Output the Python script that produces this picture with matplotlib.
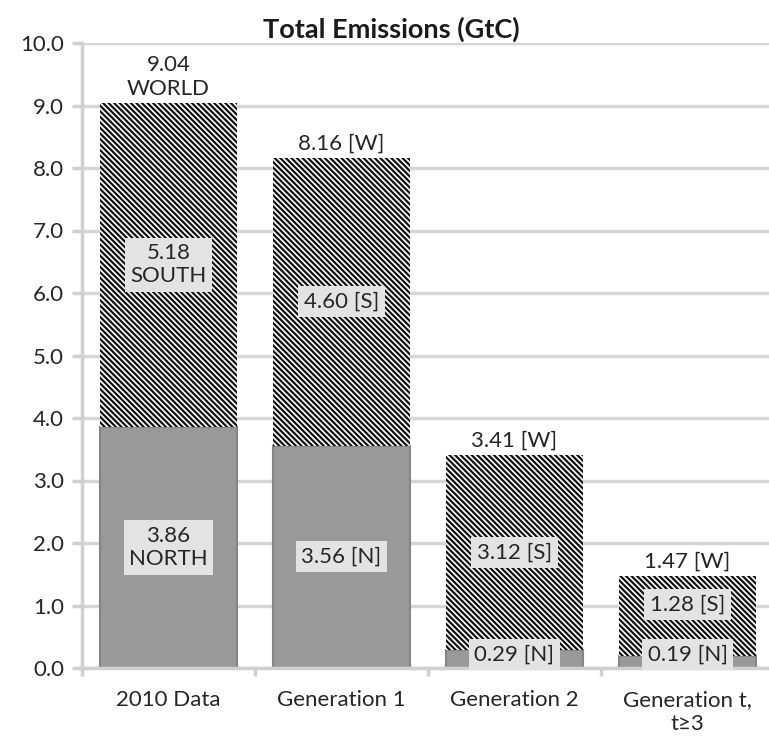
import matplotlib
matplotlib.use("Agg")
import matplotlib.pyplot as plt
import numpy as np

categories = ["2010 Data", "Generation 1", "Generation 2", "Generation t,\nt\u22653"]
north = [3.86, 3.56, 0.29, 0.19]
south = [5.18, 4.60, 3.12, 1.28]
world = [9.04, 8.16, 3.41, 1.47]
north_labels = ["3.86\nNORTH", "3.56 [N]", "0.29 [N]", "0.19 [N]"]
south_labels = ["5.18\nSOUTH", "4.60 [S]", "3.12 [S]", "1.28 [S]"]
world_labels = ["9.04\nWORLD", "8.16 [W]", "3.41 [W]", "1.47 [W]"]
yticks = np.arange(0, 10.01, 1.0)

plt.rcParams["font.family"] = ["Lato", "DejaVu Sans"]
plt.rcParams["hatch.linewidth"] = 1.6

fig = plt.figure(figsize=(7.69, 7.47), dpi=100)
ax = fig.add_axes([82 / 769, 79 / 747, 692 / 769, 625 / 747])

x = np.arange(len(categories))
w = 0.79
north = np.array(north)
south = np.array(south)

ax.bar(x, north, w, color="#999999", edgecolor="#858585", linewidth=1.5, zorder=2)
ax.bar(x, south, w, bottom=north, color="white", edgecolor="#111111",
       hatch="\\" * 6, linewidth=0, zorder=2)

box = dict(boxstyle="square,pad=0.25", facecolor="#e3e3e3", edgecolor="none")
txt = "#262626"
fs = 16
for i in range(len(x)):
    yn = max(north[i] / 2, 0.22)
    ys = max(north[i] + south[i] / 2, yn + 0.8)
    ax.text(x[i], yn, north_labels[i], ha="center", va="center", fontsize=fs,
            color=txt, bbox=box, zorder=4, linespacing=1.2)
    ax.text(x[i], ys, south_labels[i], ha="center", va="center", fontsize=fs,
            color=txt, bbox=box, zorder=4, linespacing=1.2)
    ax.annotate(world_labels[i], (x[i], world[i]), xytext=(0, 3),
                textcoords="offset points", ha="center", va="bottom",
                fontsize=fs, color=txt, linespacing=1.25, zorder=4)

ax.set_xlim(-0.5, 3.5)
ax.set_ylim(0, 10)
ax.set_yticks(yticks)
ax.set_yticklabels([f"{v:.1f}" for v in yticks], fontsize=fs, color=txt)
ax.set_xticks(x)
ax.set_xticklabels(categories, fontsize=fs, color=txt, linespacing=1.25)
ax.set_xticks(np.arange(-0.5, 3.6, 1), minor=True)
ax.tick_params(axis="x", which="major", length=0, pad=16)
ax.tick_params(axis="x", which="minor", length=6, width=2.5, color="#d0d0d0")
ax.tick_params(axis="y", length=7, width=2.5, color="#d0d0d0", pad=6)

ax.grid(axis="y", color="#d6d6d6", linewidth=2.5, zorder=0)
ax.set_axisbelow(True)
for s in ["top", "right"]:
    ax.spines[s].set_visible(False)
ax.spines["left"].set_color("#d0d0d0")
ax.spines["left"].set_linewidth(2.5)
ax.spines["bottom"].set_color("#d0d0d0")
ax.spines["bottom"].set_linewidth(2.5)

fig.text(391 / 769, 1 - 29 / 747, "Total Emissions (GtC)", ha="center", va="center",
         fontsize=19.5, fontweight="bold", color="#1a1a1a")

fig.savefig("out.png", dpi=100)
